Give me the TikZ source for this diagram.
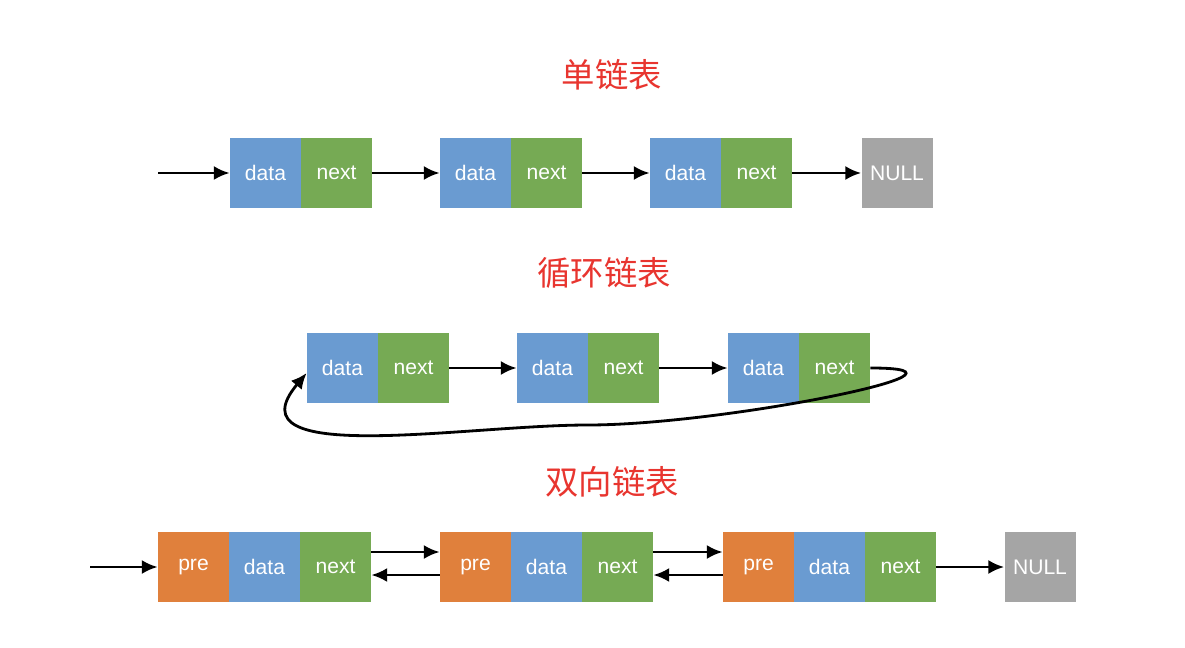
\documentclass[tikz,border=0pt]{standalone}
\usepackage{fontspec}
\setmainfont{Liberation Sans}
\newfontfamily\cjk{Noto Sans CJK SC}
\usetikzlibrary{arrows.meta}
\definecolor{cellblue}{RGB}{106,155,209}
\definecolor{cellgreen}{RGB}{118,170,84}
\definecolor{cellorange}{RGB}{224,128,60}
\definecolor{cellgray}{RGB}{165,165,165}
\definecolor{titlered}{RGB}{232,53,47}
\tikzset{
  cell/.style={minimum width=1.42cm, minimum height=1.42cm, inner sep=0pt, text=white, font=\fontsize{12}{14}\selectfont},
  datacell/.style={cell, fill=cellblue},
  nextcell/.style={cell, fill=cellgreen},
  precell/.style={cell, fill=cellorange},
  nullcell/.style={cell, fill=cellgray},
  title/.style={text=titlered, font=\cjk\fontsize{19}{22}\selectfont},
  link/.style={line width=1.6pt, -{Latex[length=9pt,width=8pt]}}
}
\begin{document}
\begin{tikzpicture}[x=0.02cm, y=-0.02cm]
\useasboundingbox (0,0) rectangle (1185,648);

% single list
\node[title] (t1) at (612,75) {单链表};
\coordinate (s1) at (158,173);
\node[datacell] (a1d) at (265.5,173) {data};
\node[nextcell] (a1n) at (336.5,173) {next};
\node[datacell] (a2d) at (475.5,173) {data};
\node[nextcell] (a2n) at (546.5,173) {next};
\node[datacell] (a3d) at (685.5,173) {data};
\node[nextcell] (a3n) at (756.5,173) {next};
\node[nullcell] (a4) at (897,173) {NULL};
\draw[link] (s1) -- (a1d);
\draw[link] (a1n) -- (a2d);
\draw[link] (a2n) -- (a3d);
\draw[link] (a3n) -- (a4);

% circular list
\node[title] (t2) at (604,273) {循环链表};
\node[datacell] (c1d) at (342.5,368) {data};
\node[nextcell] (c1n) at (413.5,368) {next};
\node[datacell] (c2d) at (552.5,368) {data};
\node[nextcell] (c2n) at (623.5,368) {next};
\node[datacell] (c3d) at (763.5,368) {data};
\node[nextcell] (c3n) at (834.5,368) {next};
\draw[link] (c1n) -- (c2d);
\draw[link] (c2n) -- (c3d);
\coordinate (loop) at (588,425);
\draw[link] (c3n.east) to[out=0,in=0,looseness=1.2] (loop)
  to[out=180,in=230,looseness=1.1] ([yshift=-0.1cm]c1d.west);

% doubly linked list
\node[title] (t3) at (612,482) {双向链表};
\coordinate (s3) at (90,567);
\node[precell] (b1p) at (193.5,567) {pre};
\node[datacell] (b1d) at (264.5,567) {data};
\node[nextcell] (b1n) at (335.5,567) {next};
\node[precell] (b2p) at (475.5,567) {pre};
\node[datacell] (b2d) at (546.5,567) {data};
\node[nextcell] (b2n) at (617.5,567) {next};
\node[precell] (b3p) at (758.5,567) {pre};
\node[datacell] (b3d) at (829.5,567) {data};
\node[nextcell] (b3n) at (900.5,567) {next};
\node[nullcell] (b4) at (1040,567) {NULL};
\draw[link] (s3) -- (b1p);
\draw[link] ([yshift=0.3cm]b1n.east) -- ([yshift=0.3cm]b2p.west);
\draw[link] ([yshift=-0.16cm]b2p.west) -- ([yshift=-0.16cm]b1n.east);
\draw[link] ([yshift=0.3cm]b2n.east) -- ([yshift=0.3cm]b3p.west);
\draw[link] ([yshift=-0.16cm]b3p.west) -- ([yshift=-0.16cm]b2n.east);
\draw[link] (b3n) -- (b4);
\end{tikzpicture}
\end{document}
